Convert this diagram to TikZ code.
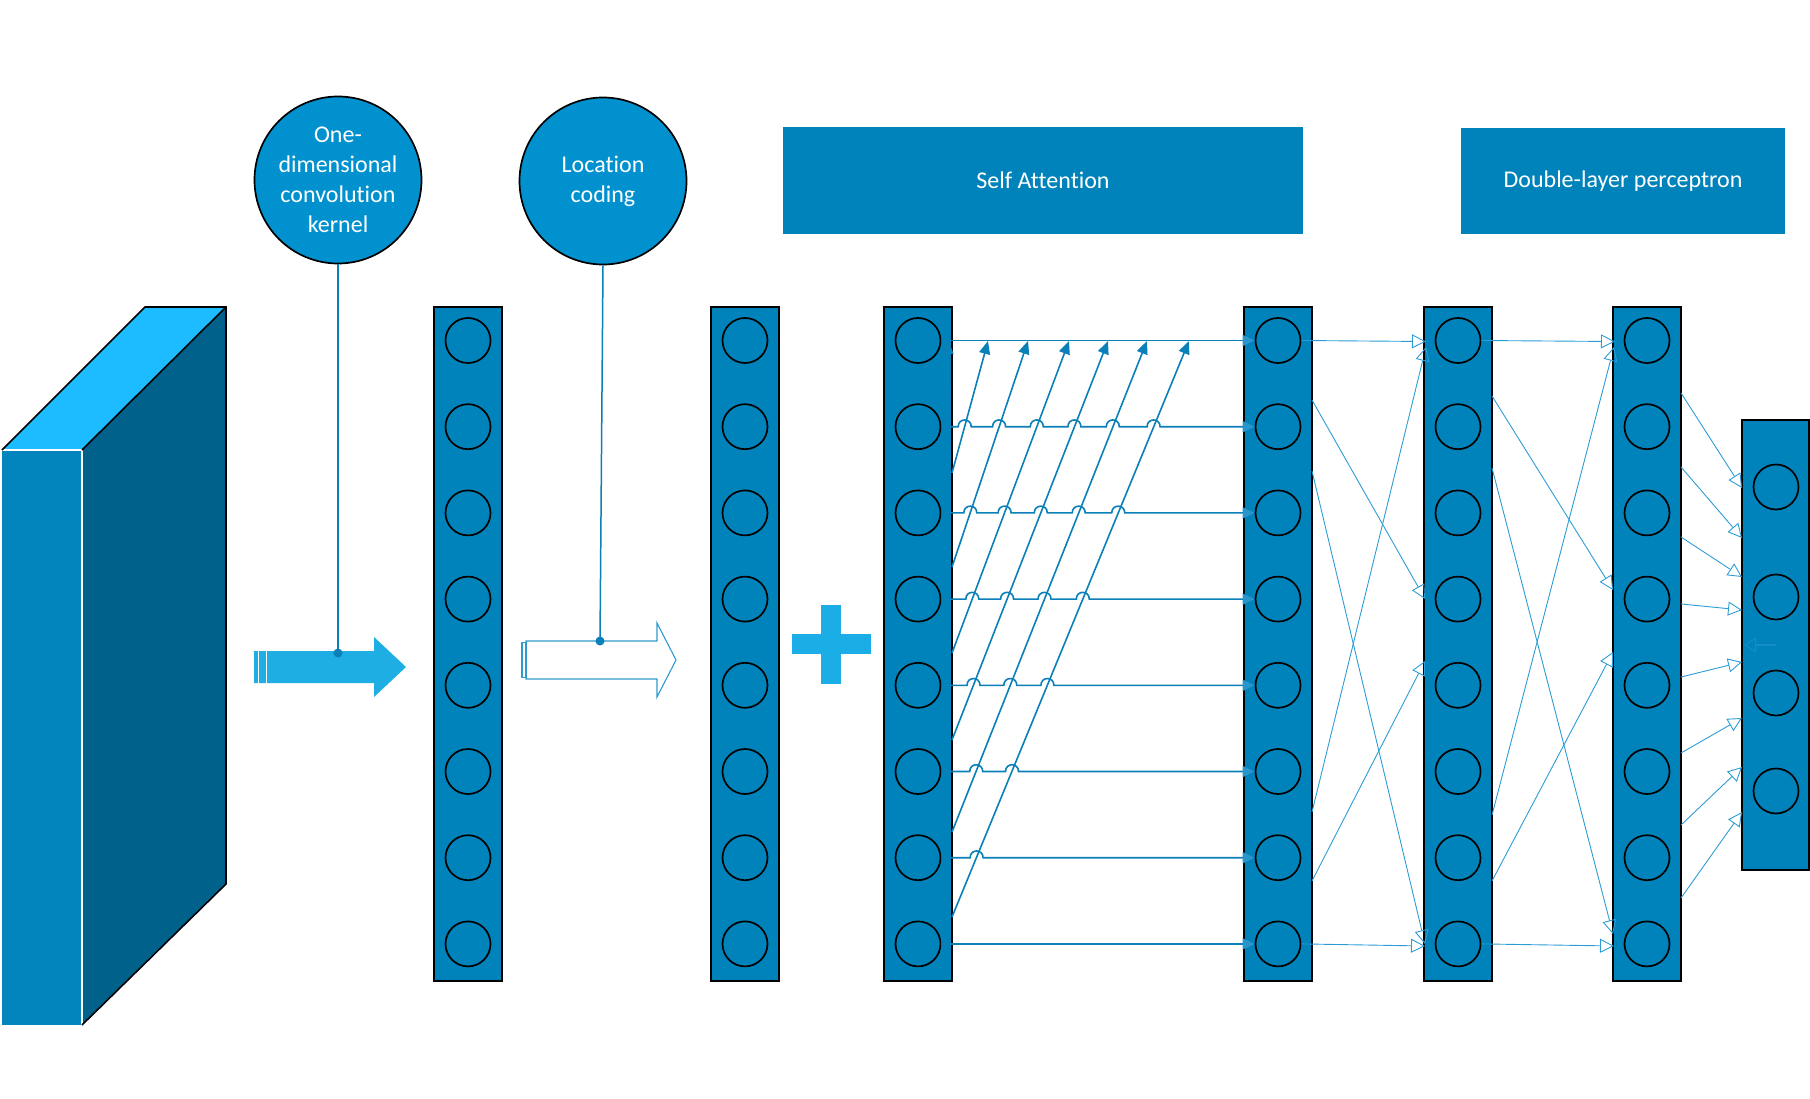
\documentclass[tikz,border=0pt]{standalone}
\usepackage{fontspec}
\setmainfont{Carlito}[Ligatures=NoCommon]
\usetikzlibrary{arrows.meta,calc}
\definecolor{boxblue}{HTML}{0083BA}
\definecolor{lineblue}{HTML}{0A7FB8}
\definecolor{thinblue}{HTML}{2D9CD5}
\definecolor{bigcircblue}{HTML}{0291CF}
\definecolor{arrowblue}{HTML}{1EAEE3}
\definecolor{topface}{HTML}{1DBBFF}
\definecolor{sideface}{HTML}{00618B}
\definecolor{frontface}{HTML}{0284BC}
\definecolor{plusblue}{HTML}{1BAEE6}
\definecolor{outlineblue}{HTML}{2E9AD0}
\definecolor{headtint}{HTML}{2A95CC}
\newcommand\hoprow[3]{\draw[sahline] (c3-#1.east) \foreach \h in {#3} { -- (\h-6.5,#2) .. controls (\h-6.5,#2-9) and (\h+6.5,#2-9) .. (\h+6.5,#2) } -- (c4-#1.west);}
\begin{document}
\begin{tikzpicture}[x=1pt,y=-1pt,
  colbox/.style={draw=black, line width=2pt, fill=boxblue, minimum width=68pt, minimum height=674pt, inner sep=0pt},
  unit/.style={circle, draw=black, line width=1.7pt, minimum size=45pt, inner sep=0pt},
  bigc/.style={circle, draw=black, line width=1.7pt, fill=bigcircblue, minimum size=167pt, inner sep=0pt, text=white, align=center, font=\fontsize{24}{30}\selectfont},
  headbox/.style={fill=boxblue, text=white, inner sep=0pt, font=\fontsize{24}{30}\selectfont},
  saline/.style={draw=lineblue, line width=1.6pt},
  sadiag/.style={saline, -{Triangle[length=13pt,width=11pt]}},
  sahline/.style={saline, -{Triangle[length=12pt,width=11pt,color=headtint,fill=headtint]}},
  thinarrow/.style={draw=thinblue, line width=0.9pt, -{Triangle[open,length=14pt,width=14pt]}},
  pinline/.style={draw=lineblue, line width=1.5pt}]
\useasboundingbox (0,0) rectangle (1810,1099);

% 3D block
\fill[sideface] (82,450) -- (226,307) -- (226,884) -- (82,1025) -- cycle;
\fill[topface] (2,450) -- (145,307) -- (226,307) -- (82,450) -- cycle;
\fill[frontface] (2,450) rectangle (82,1025);
\draw[white, line width=1.6pt] (2,450) -- (82,450) -- (82,1025);
\draw[black, line width=1.6pt] (2,450) -- (145,307) -- (226,307) -- (226,884) -- (82,1025);
\draw[black, line width=1.6pt] (82,450) -- (226,307);

% big circles and pins
\node[bigc] (conv) at (338,180) {One-\\dimensional\\convolution\\kernel};
\node[bigc] (loc) at (603,181) {Location\\coding};
\coordinate (dotA) at (338,653);
\coordinate (dotB) at (600,641);

% filled arrow
\fill[arrowblue] (254,651) -- (374,651) -- (374,637) -- (406,667) -- (374,697) -- (374,683) -- (254,683) -- cycle;
\draw[white, line width=0.9pt] (258,651) -- (258,683);
\draw[white, line width=0.9pt] (266.3,651) -- (266.3,683);
\draw[pinline] (conv.south) -- (dotA);
\fill[lineblue] (dotA) circle[radius=4.5pt];

% outline arrow
\draw[outlineblue, line width=1.1pt] (526,641) -- (657,641) -- (657,623) -- (676,660) -- (657,697) -- (657,679) -- (526,679) -- cycle;
\draw[outlineblue, line width=1.1pt] (522,642.5) rectangle (526,677.5);
\draw[pinline] (loc.south) -- (dotB);
\fill[lineblue] (dotB) circle[radius=4.5pt];

% plus
\fill[plusblue] (792,634) rectangle (871,654);
\fill[plusblue] (821,605) rectangle (841,684);

% header boxes
\node[headbox, minimum width=520pt, minimum height=107pt] (sa) at (1043,180.5) {Self Attention};
\node[headbox, minimum width=324pt, minimum height=106pt] (dlp) at (1623,181) {Double-layer perceptron};

% columns
\foreach \c/\x in {1/468,2/745,3/918,4/1278,5/1458,6/1647}{
  \node[colbox] (k\c) at (\x,644) {};
  \foreach \i in {1,...,8}
    \node[unit] (c\c-\i) at (\x,{340.5+86.2*(\i-1)}) {};
}
\node[colbox, minimum height=450pt, minimum width=67pt] (ko) at (1775.5,645) {};
\node[unit] (o1) at (1776,487) {};
\node[unit] (o2) at (1776,597) {};
\node[unit] (o3) at (1776,693) {};
\node[unit] (o4) at (1776,791) {};
\draw[thinblue, opacity=0.45, line width=2.5pt, -{Triangle[open,length=12pt,width=15pt,line width=1pt]}] (1776,645) -- (1744,645);

% self attention: horizontal rows with hops
\draw[sahline] (c3-1.east) -- (c4-1.west);
\hoprow{2}{426.7}{964.7,999.1,1036.8,1074.4,1112.8,1153.6}
\hoprow{3}{512.9}{970.3,1004.6,1040.8,1078.7,1118.2}
\hoprow{4}{599.1}{972.3,1007.1,1044.5,1082.8}
\hoprow{5}{685.3}{973.5,1010.3,1047.4}
\hoprow{6}{771.5}{976.2,1012}
\hoprow{7}{857.7}{976.6}
\draw[sahline] (c3-8.east) -- (c4-8.west);

% self attention: diagonals
\coordinate (d0s) at (946,420); \coordinate (d0t) at (948.5,341);
\coordinate (d1s) at (952,473); \coordinate (d1t) at (988,341);
\coordinate (d2s) at (952,567); \coordinate (d2t) at (1028,341);
\coordinate (d3s) at (952,653); \coordinate (d3t) at (1069,341);
\coordinate (d4s) at (952,740); \coordinate (d4t) at (1108,341);
\coordinate (d5s) at (952,832); \coordinate (d5t) at (1147,341);
\coordinate (d6s) at (952,917); \coordinate (d6t) at (1189,341);
\foreach \j in {0,...,6} \draw[sadiag] (d\j s) -- (d\j t);

% col4 -> col5
\coordinate (p1e) at (1426,341.5);
\coordinate (p2s) at (1312,400); \coordinate (p2e) at (1425,599);
\coordinate (p3s) at (1312,471); \coordinate (p3e) at (1425,944);
\coordinate (p4s) at (1312,812); \coordinate (p4e) at (1426,347);
\coordinate (p5s) at (1312,881); \coordinate (p5e) at (1425,661);
\coordinate (p6e) at (1425,946);
\draw[thinarrow] (c4-1.east) -- (p1e);
\draw[thinarrow] (p2s) -- (p2e);
\draw[thinarrow] (p3s) -- (p3e);
\draw[thinarrow] (p4s) -- (p4e);
\draw[thinarrow] (p5s) -- (p5e);
\draw[thinarrow] (c4-8.east) -- (p6e);

% col5 -> col6
\coordinate (q1e) at (1615,341.5);
\coordinate (q2s) at (1492,396); \coordinate (q2e) at (1613,590);
\coordinate (q3s) at (1492,468); \coordinate (q3e) at (1613,934);
\coordinate (q4s) at (1492,815); \coordinate (q4e) at (1614,347);
\coordinate (q5s) at (1492,881); \coordinate (q5e) at (1613,652);
\coordinate (q6e) at (1614,946);
\draw[thinarrow] (c5-1.east) -- (q1e);
\draw[thinarrow] (q2s) -- (q2e);
\draw[thinarrow] (q3s) -- (q3e);
\draw[thinarrow] (q4s) -- (q4e);
\draw[thinarrow] (q5s) -- (q5e);
\draw[thinarrow] (c5-8.east) -- (q6e);

% col6 -> output
\foreach \n/\a/\b in {1/393/488,2/467/538,3/537/577,4/604/610,5/677/662,6/753/718,7/825/767,8/898/812}{
  \coordinate (r\n s) at (1681,\a);
  \coordinate (r\n e) at (1742,\b);
  \draw[thinarrow] (r\n s) -- (r\n e);
}
\end{tikzpicture}
\end{document}
